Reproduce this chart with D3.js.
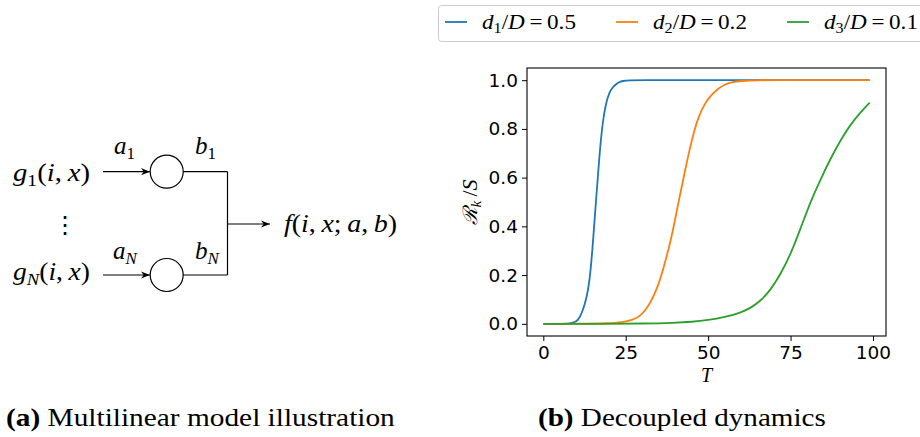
<!DOCTYPE html>
<html><head><meta charset="utf-8">
<script src="https://cdn.jsdelivr.net/npm/d3@7"></script>
<style>body{margin:0;background:#fff} svg{display:block}</style>
</head><body><svg id="c" width="920" height="437"></svg>
<script>
// ---- data ----
const seriesLabels = [["d","1","0.5"],["d","2","0.2"],["d","3","0.1"]];
const seriesColors = ["#1f77b4","#ff7f0e","#2ca02c"];
const blueT = [0,5,8,10,11,12,13,14,15,16,17,18,19,20,21,22,23,24,26,30,40,60,80,99];
const blueV = [0,0,0.001,0.008,0.025,0.055,0.10,0.167,0.32,0.51,0.69,0.83,0.905,0.95,0.97,0.983,0.992,0.997,1,1,1,1,1,1];
const orangeT = [0,10,20,24,27,29,31,33,35,37,39,41,43,45,47,49,51,53,55,57,60,65,70,80,99];
const orangeV = [0,0,0.002,0.006,0.016,0.028,0.055,0.10,0.16,0.255,0.36,0.50,0.63,0.755,0.85,0.905,0.94,0.965,0.983,0.992,0.997,1,1,1,1];
const greenT = [0,20,30,40,45,50,55,60,63,66,69,72,75,78,81,84,87,90,93,96,99];
const greenV = [0,0,0.001,0.004,0.008,0.015,0.027,0.046,0.066,0.095,0.14,0.205,0.285,0.39,0.50,0.59,0.675,0.75,0.815,0.865,0.908];
const xTicks = [0,25,50,75,100];
const yTicks = [0,0.2,0.4,0.6,0.8,1.0];
const captionA = ["(a)", "Multilinear model illustration"];
const captionB = ["(b)", "Decoupled dynamics"];

const series = [[blueT,blueV],[orangeT,orangeV],[greenT,greenV]];

const svg = d3.select("#c");
const serif = "'Liberation Serif','DejaVu Serif',serif";
const sans = "'DejaVu Sans',sans-serif";

function fit(sel, x0, w){
  const L = sel.node().getBBox().width;
  sel.attr("transform", `translate(${x0},0) scale(${w/L},1) translate(${-x0},0)`);
}

// ---- plot (b) ----
const x = d3.scaleLinear().domain([-4.95,103.95]).range([527,886]);
const y = d3.scaleLinear().domain([-0.05,1.05]).range([336,68]);

const gx = svg.append("g").attr("transform","translate(0,336)")
  .call(d3.axisBottom(x).tickValues(xTicks).tickSize(5).tickPadding(4).tickFormat(d3.format("d")));
const gy = svg.append("g").attr("transform","translate(527,0)")
  .call(d3.axisLeft(y).tickValues(yTicks).tickSize(5).tickPadding(4).tickFormat(d3.format(".1f")));
[gx,gy].forEach(g=>{
  g.select(".domain").remove();
  g.selectAll("text").attr("font-family",sans).attr("font-size",18.5).attr("fill","#000");
  g.selectAll("line").attr("stroke","#000").attr("stroke-width",1);
});
gx.selectAll("text").attr("dy","0.74em");

const line = d3.line().x(d=>x(d[0])).y(d=>y(d[1])).curve(d3.curveBasis);
series.forEach((s,i)=>{
  const pts = s[0].map((t,j)=>[t,s[1][j]]);
  svg.append("path").datum(pts).attr("d",line).attr("fill","none")
    .attr("stroke",seriesColors[i]).attr("stroke-width",1.8);
});
svg.append("rect").attr("x",527).attr("y",68).attr("width",359).attr("height",268)
  .attr("fill","none").attr("stroke","#000").attr("stroke-width",1.1);

// axis labels
svg.append("text").attr("x",706.5).attr("y",382).attr("text-anchor","middle")
  .attr("font-family",serif).attr("font-style","italic").attr("font-size",20).text("T");
const yl = svg.append("text").attr("transform","translate(477,202) rotate(-90)")
  .attr("text-anchor","middle").attr("font-family",serif).attr("font-size",22);
yl.append("tspan").attr("font-style","italic").attr("font-family","'DejaVu Serif',serif").attr("font-size",20).text("\u211B");
yl.append("tspan").attr("font-style","italic").attr("font-size",15).attr("dy",4).text("k");
yl.append("tspan").attr("dy",-4).text("\u2009/");
yl.append("tspan").attr("font-style","italic").text("S");

// legend
svg.append("rect").attr("x",438.5).attr("y",5.5).attr("width",490).attr("height",36).attr("rx",3)
  .attr("fill","#fff").attr("stroke","#cccccc").attr("stroke-width",1);
const legX = [445,616,787];
seriesLabels.forEach((lab,i)=>{
  svg.append("line").attr("x1",legX[i]).attr("x2",legX[i]+22).attr("y1",22).attr("y2",22)
    .attr("stroke",seriesColors[i]).attr("stroke-width",1.8);
  const x0 = legX[i]+37;
  const t = svg.append("text").attr("x",x0).attr("y",29).attr("font-family",serif).attr("font-size",20);
  t.append("tspan").attr("font-style","italic").text(lab[0]);
  t.append("tspan").attr("font-size",14).attr("dy",4).text(lab[1]);
  t.append("tspan").attr("dy",-4).text("/");
  t.append("tspan").attr("font-style","italic").text("D");
  t.append("tspan").text("\u2009=\u2009" + lab[2]);
  fit(t, x0, 94);
});

// ---- diagram (a) ----
const defs = svg.append("defs");
defs.append("marker").attr("id","arr").attr("viewBox","0 0 10 10").attr("refX",10).attr("refY",5)
  .attr("markerWidth",9).attr("markerHeight",9).attr("markerUnits","userSpaceOnUse").attr("orient","auto")
  .append("path").attr("d","M0,1 L10,5 L0,9 L3,5 Z").attr("fill","#000");
const dg = svg.append("g").attr("stroke","#000").attr("stroke-width",1.2).attr("fill","none");
const rows = [171.7, 275];
rows.forEach(ry=>{
  dg.append("line").attr("x1",103).attr("x2",150).attr("y1",ry).attr("y2",ry).attr("marker-end","url(#arr)");
  dg.append("circle").attr("cx",166.7).attr("cy",ry).attr("r",16.5);
  dg.append("line").attr("x1",183.2).attr("x2",227.5).attr("y1",ry).attr("y2",ry);
});
dg.append("line").attr("x1",227.5).attr("x2",227.5).attr("y1",rows[0]).attr("y2",rows[1]);
dg.append("line").attr("x1",227.5).attr("x2",270).attr("y1",224).attr("y2",224).attr("marker-end","url(#arr)");

function mathText(xp, yp, parts, w){
  const size = 25;
  const t = svg.append("text").attr("x",xp).attr("y",yp).attr("font-family",serif).attr("font-size",size);
  parts.forEach(p=>{
    const s = t.append("tspan").text(p.t);
    if(p.i) s.attr("font-style","italic");
    if(p.sub){ s.attr("font-size",size*0.68).attr("dy",p.sub); }
    if(p.up) s.attr("dy",p.up);
  });
  if(w) fit(t, xp, w);
  return t;
}
mathText(13,181,[{t:"g",i:1},{t:"1",sub:5},{t:"(",up:-5},{t:"i",i:1},{t:",\u2009"},{t:"x",i:1},{t:")"}],77);
mathText(13,280,[{t:"g",i:1},{t:"N",sub:5,i:1},{t:"(",up:-5},{t:"i",i:1},{t:",\u2009"},{t:"x",i:1},{t:")"}],77);
mathText(114,154,[{t:"a",i:1},{t:"1",sub:5}]);
mathText(195,154,[{t:"b",i:1},{t:"1",sub:5}]);
mathText(113,259,[{t:"a",i:1},{t:"N",sub:5,i:1}]);
mathText(195,259,[{t:"b",i:1},{t:"N",sub:5,i:1}]);
mathText(284,232,[{t:"f",i:1},{t:"("},{t:"i",i:1},{t:",\u2009"},{t:"x",i:1},{t:";\u2009"},{t:"a",i:1},{t:",\u2009"},{t:"b",i:1},{t:")"}],113);
svg.append("text").attr("x",65).attr("y",233).attr("text-anchor","middle")
  .attr("font-family",serif).attr("font-size",24).text("\u22EE");

// ---- captions ----
function caption(xp, c, w){
  const t = svg.append("text").attr("x",xp).attr("y",426).attr("font-family",serif).attr("font-size",26);
  t.append("tspan").attr("font-weight","bold").text(c[0]);
  t.append("tspan").text("\u00A0" + c[1]);
  fit(t, xp, w);
}
caption(6, captionA, 389);
caption(538, captionB, 288);
</script></body></html>
